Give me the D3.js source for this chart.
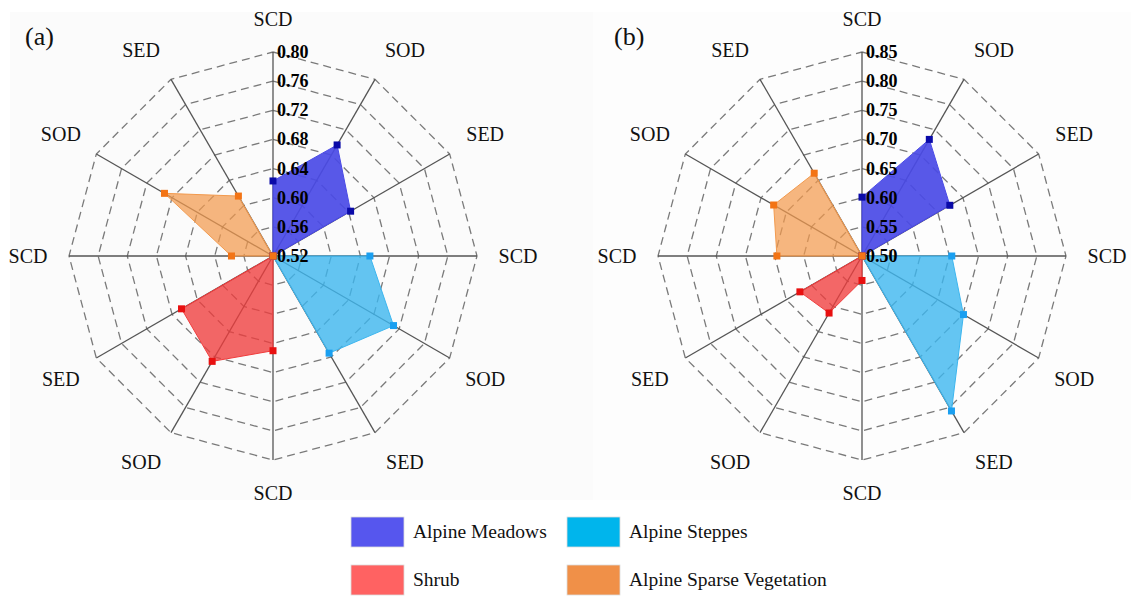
<!DOCTYPE html>
<html>
<head>
<meta charset="utf-8">
<script src="https://cdn.jsdelivr.net/npm/d3@7.9.0/dist/d3.min.js"></script>
<style>
  body { margin: 0; background: #fff; }
  svg { display: block; }
  text { font-family: "Liberation Serif", "DejaVu Serif", serif; }
</style>
</head>
<body>
<svg id="chart" width="1131" height="599"></svg>
<script>
// axes, clockwise from the top
const axisLabels = ['SCD', 'SOD', 'SED', 'SCD', 'SOD', 'SED', 'SCD', 'SOD', 'SED', 'SCD', 'SOD', 'SED'];

const vegNames = ['Alpine Meadows', 'Alpine Steppes', 'Shrub', 'Alpine Sparse Vegetation'];
// each vegetation type sits on 3 axes: start index
const vegStart = [0, 3, 6, 9];

// panel (a)
const ticksA = [0.52, 0.56, 0.60, 0.64, 0.68, 0.72, 0.76, 0.80];
const meadowsA = [0.623, 0.696, 0.643];
const steppesA = [0.653, 0.711, 0.674];
const shrubA   = [0.650, 0.687, 0.665];
const sparseA  = [0.577, 0.692, 0.615];

// panel (b)
const ticksB = [0.50, 0.55, 0.60, 0.65, 0.70, 0.75, 0.80, 0.85];
const meadowsB = [0.601, 0.731, 0.674];
const steppesB = [0.654, 0.701, 0.807];
const shrubB   = [0.542, 0.613, 0.623];
const sparseB  = [0.646, 0.675, 0.664];

const fillColors   = ['#4a4ae6', '#3db6ef', '#f03c3c', '#f29a4e'];
const fillOpacity  = [0.92, 0.8, 0.78, 0.72];
const markerColors = ['#0a0aa8', '#1a9ff0', '#e81010', '#f37415'];
const legendColors = ['#5656ee', '#00b5ec', '#ff6262', '#f09048'];

const FONT = '"Liberation Serif", "DejaVu Serif", serif';
const svg = d3.select('#chart');
const R = 204;

// faint panel backgrounds
svg.append('rect').attr('x', 10).attr('y', 12).attr('width', 583).attr('height', 488).attr('fill', '#fbfbfb');
svg.append('rect').attr('x', 593).attr('y', 12).attr('width', 538).attr('height', 488).attr('fill', '#fdfdfd');

function angleOf(i) { return i * Math.PI / 6; }

function drawRadar(cx, cy, ticks, seriesList, tag) {
  const g = svg.append('g').attr('transform', `translate(${cx},${cy})`);
  const r = d3.scaleLinear().domain([ticks[0], ticks[ticks.length - 1]]).range([0, R]);
  const pt = (i, v) => [r(v) * Math.sin(angleOf(i)), -r(v) * Math.cos(angleOf(i))];

  // dashed rings
  const ring = d3.line();
  ticks.slice(1).forEach(t => {
    const pts = axisLabels.map((_, i) => pt(i, t));
    pts.push(pts[0]);
    g.append('path')
      .attr('d', ring(pts))
      .attr('fill', 'none')
      .attr('stroke', '#7a7a7a')
      .attr('stroke-width', 1.3)
      .attr('stroke-dasharray', '8,5');
  });

  // spokes
  axisLabels.forEach((_, i) => {
    const [x, y] = pt(i, ticks[ticks.length - 1]);
    g.append('line')
      .attr('x1', 0).attr('y1', 0).attr('x2', x).attr('y2', y)
      .attr('stroke', '#555').attr('stroke-width', 1.3);
  });

  // axis labels
  axisLabels.forEach((lab, i) => {
    let a = angleOf(i);
    // nudge the 30-degree labels a bit away from vertical
    if (i === 1 || i === 7) a += 0.045;
    if (i === 5 || i === 11) a -= 0.045;
    const rx = 245, ry = (i % 6 === 0) ? 237 : 245;
    g.append('text')
      .attr('x', rx * Math.sin(a))
      .attr('y', -ry * Math.cos(a))
      .attr('text-anchor', 'middle')
      .attr('dominant-baseline', 'central')
      .attr('font-family', FONT)
      .attr('font-size', 20)
      .attr('fill', '#111')
      .text(lab);
  });

  // vegetation polygons
  const poly = d3.line();
  seriesList.forEach((vals, s) => {
    const pts = [[0, 0]].concat(vals.map((v, j) => pt(vegStart[s] + j, v)), [[0, 0]]);
    g.append('path')
      .attr('d', poly(pts))
      .attr('fill', fillColors[s])
      .attr('fill-opacity', fillOpacity[s])
      .attr('stroke', fillColors[s])
      .attr('stroke-width', 1);
  });
  seriesList.forEach((vals, s) => {
    const pts = [[0, 0]].concat(vals.map((v, j) => pt(vegStart[s] + j, v)));
    g.selectAll(null)
      .data(pts)
      .join('rect')
      .attr('x', d => d[0] - 3.5)
      .attr('y', d => d[1] - 3.5)
      .attr('width', 7).attr('height', 7)
      .attr('fill', markerColors[s]);
  });

  // tick labels on the top spoke
  g.selectAll(null)
    .data(ticks)
    .join('text')
    .attr('x', 4)
    .attr('y', d => -r(d))
    .attr('dominant-baseline', 'central')
    .attr('font-family', FONT)
    .attr('font-size', 18)
    .attr('font-weight', 'bold')
    .attr('fill', '#000')
    .text(d => d.toFixed(2));

  svg.append('text')
    .attr('x', cx - 248).attr('y', 45)
    .attr('font-family', FONT)
    .attr('font-size', 26)
    .attr('fill', '#111')
    .text(tag);
}

drawRadar(273, 256, ticksA, [meadowsA, steppesA, shrubA, sparseA], '(a)');
drawRadar(862, 256, ticksB, [meadowsB, steppesB, shrubB, sparseB], '(b)');

// legend
const legendX = [351, 567];
const legendY = [517, 565];
vegNames.forEach((name, i) => {
  const x = legendX[i % 2], y = legendY[Math.floor(i / 2)];
  svg.append('rect')
    .attr('x', x).attr('y', y).attr('width', 53).attr('height', 30)
    .attr('fill', legendColors[i])
    .attr('stroke', '#ddd').attr('stroke-width', 0.8);
  svg.append('text')
    .attr('x', x + 62).attr('y', y + 21)
    .attr('font-family', FONT)
    .attr('font-size', 19.5)
    .attr('fill', '#111')
    .text(name);
});
</script>
</body>
</html>
